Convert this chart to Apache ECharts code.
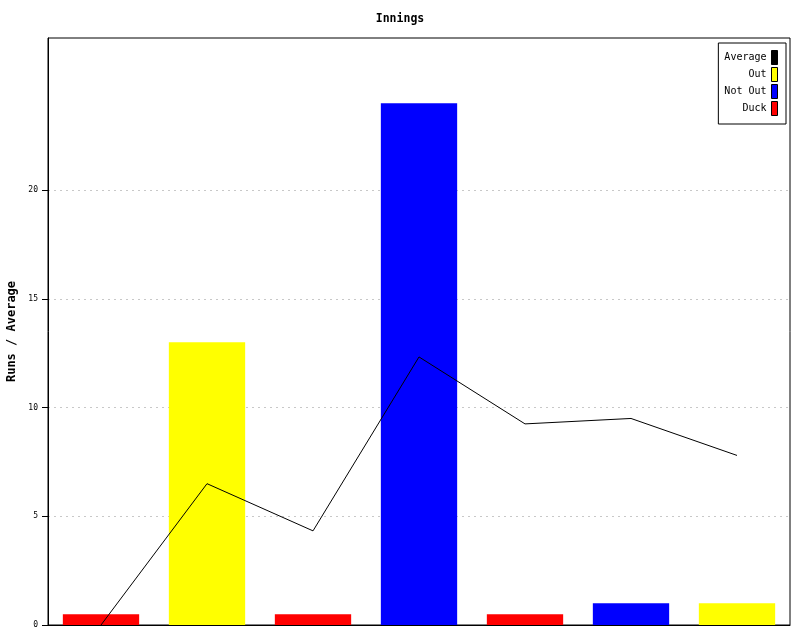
<!DOCTYPE html>
<html>
<head>
<meta charset="utf-8">
<script src="https://cdn.jsdelivr.net/npm/echarts@6/dist/echarts.min.js"></script>
<style>html,body{margin:0;padding:0;background:#fff}#c{width:800px;height:640px}</style>
</head>
<body>
<div id="c"></div>
<script>
var categories = ['1', '2', '3', '4', '5', '6', '7'];
var inningStatus = ['Duck', 'Out', 'Duck', 'Not Out', 'Duck', 'Not Out', 'Out'];
var barValues = [0.5, 13, 0.5, 24, 0.5, 1, 1];
var averageValues = [0, 6.5, 4.33, 12.33, 9.25, 9.5, 7.8];
var yTicks = [0, 5, 10, 15, 20];
var kinds = ['Out', 'Not Out', 'Duck'];
var kindColors = {'Out': '#ffff00', 'Not Out': '#0000ff', 'Duck': '#ff0000'};

var mono = '"DejaVu Sans Mono", "Liberation Mono", monospace';

var barSeries = kinds.map(function (k) {
  return {
    name: k,
    type: 'bar',
    stack: 'bars',
    barWidth: '72%',
    z: 2,
    itemStyle: { color: kindColors[k] },
    data: barValues.map(function (v, i) { return inningStatus[i] === k ? v : '-'; })
  };
});

var chart = echarts.init(document.getElementById('c'), null, { renderer: 'canvas' });
chart.setOption({
  animation: false,
  backgroundColor: '#fff',
  title: {
    text: 'Innings',
    left: 'center',
    top: 8,
    textStyle: { fontFamily: mono, fontSize: 11.5, fontWeight: 'bold', color: '#000' }
  },
  legend: {
    orient: 'vertical',
    right: 14,
    top: 43,
    align: 'right',
    itemWidth: 6,
    itemHeight: 14,
    itemGap: 2,
    padding: [7, 8, 8, 6],
    borderColor: '#000',
    borderWidth: 1,
    backgroundColor: '#fff',
    textStyle: { fontFamily: mono, fontSize: 10, color: '#000' },
    data: [
      { name: 'Average', icon: 'rect', itemStyle: { color: '#000', borderColor: '#000', borderWidth: 1 } },
      { name: 'Out', icon: 'rect', itemStyle: { color: '#ffff00', borderColor: '#000', borderWidth: 1 } },
      { name: 'Not Out', icon: 'rect', itemStyle: { color: '#0000ff', borderColor: '#000', borderWidth: 1 } },
      { name: 'Duck', icon: 'rect', itemStyle: { color: '#ff0000', borderColor: '#000', borderWidth: 1 } }
    ]
  },
  grid: {
    left: 48, right: 10, top: 38, bottom: 15,
    show: true, borderColor: '#000', borderWidth: 1,
    containLabel: false,
    outerBoundsMode: 'none'
  },
  xAxis: {
    type: 'category',
    data: categories,
    axisLine: { lineStyle: { color: '#000', width: 1 } },
    axisTick: { show: false },
    axisLabel: { show: false },
    splitLine: { show: false }
  },
  yAxis: {
    type: 'value',
    min: 0,
    max: 27,
    interval: 5,
    name: 'Runs / Average',
    nameLocation: 'middle',
    nameGap: 24,
    nameTextStyle: { fontFamily: mono, fontSize: 12, fontWeight: 'bold', color: '#000' },
    axisLine: { show: true, lineStyle: { color: '#000', width: 1 } },
    axisTick: { show: true, inside: false, length: 6, lineStyle: { color: '#000', width: 1 }, customValues: yTicks },
    axisLabel: { fontFamily: mono, fontSize: 8, color: '#000', margin: 10, customValues: yTicks },
    splitLine: { show: true, lineStyle: { color: '#c8c8c8', type: [2, 4], width: 1 } }
  },
  series: barSeries.concat([{
    name: 'Average',
    type: 'line',
    z: 3,
    symbol: 'none',
    lineStyle: { color: '#000', width: 1 },
    itemStyle: { color: '#000' },
    data: averageValues
  }])
});
</script>
</body>
</html>
